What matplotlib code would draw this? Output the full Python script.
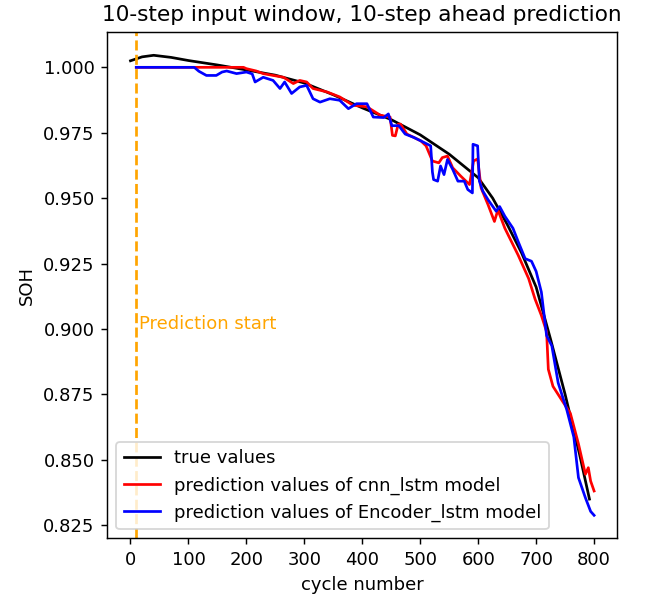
import numpy as np
import matplotlib
matplotlib.use('Agg')
import matplotlib.pyplot as plt

# true SOH curve
true_cycle = [0, 20, 40, 70, 100, 150, 200, 250, 300, 350, 400, 450, 500, 550,
              600, 625, 650, 675, 700, 725, 750, 775, 792]
true_soh = [1.0025, 1.0040, 1.0046, 1.0038, 1.0026, 1.0009, 0.9990, 0.9970, 0.9940,
            0.9895, 0.9845, 0.9800, 0.9742, 0.9668, 0.9578, 0.9500, 0.9400, 0.9290,
            0.9160, 0.8960, 0.8750, 0.8520, 0.8350]

# cnn_lstm predictions
cnn_cycle = [10, 195, 200, 217, 229, 246, 264, 281, 292, 304, 315, 339, 361, 384,
             408, 431, 448, 452, 457, 462, 466, 477, 501, 510, 521, 532, 538, 547,
             556, 570, 585, 592, 599, 605, 617, 628, 634, 646, 669, 687, 698, 709,
             718, 721, 729, 744, 759, 773, 785, 790, 794, 800]
cnn_soh = [1.0000, 1.0000, 0.9995, 0.9986, 0.9976, 0.9969, 0.9962, 0.9938, 0.9950,
           0.9944, 0.9919, 0.9906, 0.9887, 0.9855, 0.9849, 0.9817, 0.9810, 0.9740,
           0.9738, 0.9783, 0.9783, 0.9745, 0.9719, 0.9700, 0.9642, 0.9635, 0.9655,
           0.9661, 0.9616, 0.9584, 0.9552, 0.9642, 0.9650, 0.9539, 0.9475, 0.9411,
           0.9455, 0.9385, 0.9282, 0.9193, 0.9115, 0.9052, 0.8990, 0.8846, 0.8781,
           0.8729, 0.8678, 0.8561, 0.8445, 0.8470, 0.8419, 0.8381]

# Encoder_lstm predictions
enc_cycle = [10, 110, 118, 131, 148, 158, 166, 183, 200, 210, 215, 229, 246, 258,
             266, 278, 292, 304, 315, 327, 344, 361, 376, 390, 408, 419, 437, 445,
             451, 463, 474, 489, 501, 518, 521, 523, 530, 535, 541, 547, 556, 565,
             576, 582, 590, 591, 599, 602, 608, 617, 631, 637, 646, 660, 669, 681,
             692, 700, 709, 718, 727, 738, 753, 765, 773, 785, 794, 800]
enc_soh = [1.0000, 1.0000, 0.9985, 0.9969, 0.9969, 0.9982, 0.9986, 0.9976, 0.9982,
           0.9975, 0.9944, 0.9962, 0.9950, 0.9919, 0.9944, 0.9900, 0.9925, 0.9931,
           0.9880, 0.9867, 0.9880, 0.9874, 0.9842, 0.9861, 0.9861, 0.9810, 0.9808,
           0.9822, 0.9777, 0.9777, 0.9745, 0.9732, 0.9719, 0.9700, 0.9600, 0.9571,
           0.9565, 0.9623, 0.9590, 0.9648, 0.9610, 0.9565, 0.9565, 0.9533, 0.9520,
           0.9706, 0.9700, 0.9565, 0.9527, 0.9494, 0.9450, 0.9468, 0.9431, 0.9385,
           0.9334, 0.9269, 0.9259, 0.9220, 0.9141, 0.8975, 0.8936, 0.8794, 0.8690,
           0.8587, 0.8432, 0.8355, 0.8303, 0.8288]

start = 10

fig = plt.figure(figsize=(648 / 130, 598 / 130), dpi=130)
ax = fig.add_axes([0.1656, 0.0998, 0.787, 0.8462])
ax.plot(true_cycle, true_soh, color='black', label='true values')
ax.plot(cnn_cycle, cnn_soh, color='red', label='prediction values of cnn_lstm model')
ax.plot(enc_cycle, enc_soh, color='blue', label='prediction values of Encoder_lstm model')
ax.axvline(start, color='orange', linestyle='--')
ax.text(start + 5, 0.90, 'Prediction start', color='orange')
ax.set_title('10-step input window, 10-step ahead prediction')
ax.set_xlabel('cycle number')
ax.set_ylabel('SOH')
ax.legend(loc='lower left')
plt.savefig('out.png', dpi=130)
